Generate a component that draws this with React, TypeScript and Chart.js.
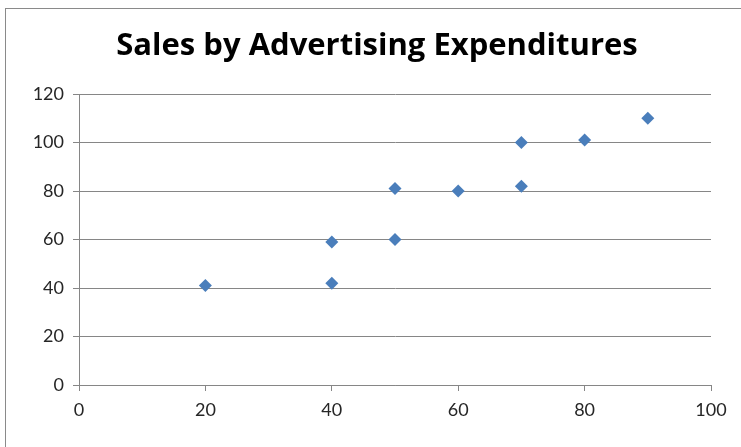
import React, { useEffect, useRef } from "react";
import { Chart, registerables } from "chart.js";

Chart.register(...registerables);

const adSpend = [20, 40, 40, 50, 50, 60, 70, 70, 80, 90];
const sales = [41, 59, 42, 81, 60, 80, 100, 82, 101, 110];
const chartTitle = "Sales by Advertising Expenditures";

const titleShift = {
  id: "titleShift",
  afterLayout(chart: any) {
    const t = chart.titleBlock;
    if (t) {
      t.left = 43;
      t.right = 711;
      t.width = 668;
    }
  },
};

export default function App() {
  const ref = useRef<HTMLCanvasElement | null>(null);
  useEffect(() => {
    if (!ref.current) return;
    const chart = new Chart(ref.current, {
      type: "scatter",
      data: {
        datasets: [
          {
            label: "Sales",
            data: adSpend.map((x, i) => ({ x, y: sales[i] })),
            pointStyle: "rectRot",
            pointRadius: 6.5,
            backgroundColor: "#4a7ebb",
            borderColor: "#4a7ebb",
            borderWidth: 0,
          },
        ],
      },
      options: {
        responsive: false,
        animation: false,
        layout: { padding: { left: 0, right: 30, top: 0, bottom: 0 } },
        plugins: {
          legend: { display: false },
          tooltip: { enabled: false },
          title: {
            display: true,
            text: chartTitle,
            color: "#000",
            font: { family: "Open Sans", size: 31, weight: "bold", lineHeight: 1.2 },
            padding: { top: 28, bottom: 28.8 },
          },
        },
        scales: {
          x: {
            type: "linear",
            min: 0,
            max: 100,
            ticks: { stepSize: 20, color: "#262626", font: { family: "Lato", size: 18 }, padding: 8 },
            grid: { drawOnChartArea: false, drawTicks: true, tickLength: 6, color: "#868686" },
            border: { color: "#868686" },
            afterFit: (s: any) => { s.height = 62; },
          },
          y: {
            type: "linear",
            min: 0,
            max: 120,
            ticks: { stepSize: 20, color: "#262626", font: { family: "Lato", size: 18 }, padding: 9 },
            grid: { color: "#868686", tickLength: 6 },
            border: { color: "#868686" },
            afterFit: (s: any) => { s.width = 79; },
          },
        },
      },
      plugins: [titleShift],
    });
    return () => chart.destroy();
  }, []);
  return (
    <div style={{ position: "fixed", left: 0, top: 0, width: 741, height: 447, background: "#fff", overflow: "hidden" }}>
      <div style={{ position: "absolute", left: 5, top: 8, width: 760, height: 460, border: "1.5px solid #8a8a8a", boxSizing: "border-box" }} />
      <canvas ref={ref} width={741} height={447} style={{ position: "absolute", left: 0, top: 0 }} />
    </div>
  );
}
